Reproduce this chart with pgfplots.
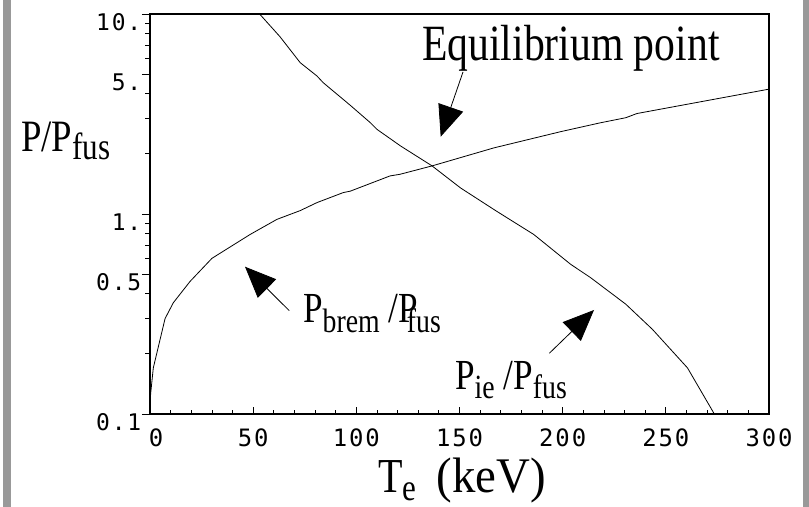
\documentclass[border=0pt]{standalone}
\usepackage{fontspec}
\setmainfont{Liberation Serif}
\newfontfamily\lblfont[FakeStretch=0.82]{Liberation Serif}
\newfontfamily\lblwfont[FakeStretch=0.94]{Liberation Serif}
\newfontfamily\tickfont[LetterSpace=8]{DejaVu Sans Mono}
\usepackage{pgfplots}
\pgfplotsset{compat=1.18}
\usetikzlibrary{arrows.meta}
\newcommand\lbl[2]{{\lblfont\fontsize{#1}{#1}\selectfont #2}}
\newcommand\sub[3]{\raisebox{-#1bp}{\lblfont\fontsize{#2}{#2}\selectfont #3}}
\begin{document}
\begin{tikzpicture}
\begin{axis}[
  scale only axis, width=619bp, height=400bp,
  xmin=0, xmax=300, ymode=log, ymin=0.1, ymax=10,
  axis line style={line width=2.2bp},
  tick align=outside, ytick pos=left,
  xtick=\empty,
  ytick={0.1,0.5,1,5,10}, yticklabels={0.1,0.5,1.,5.,10.},
  minor ytick={0.2,0.3,0.4,0.6,0.7,0.8,0.9,2,3,4,6,7,8,9},
  major tick length=8bp, minor tick length=5bp,
  every tick/.style={black, line width=0.8bp},
  yticklabel style={font=\tickfont\fontsize{23}{23}\selectfont, yshift=-8bp, inner sep=0.5bp},
]
\addplot[black, line width=0.8bp] coordinates {
(0,0.1) (0.3,0.126) (1.6,0.17) (7.3,0.30) (11.3,0.36) (19.4,0.46) (30,0.60)
(48.5,0.79) (61.5,0.94) (72.8,1.04) (80.9,1.14) (93.7,1.28) (97,1.30)
(116.3,1.55) (121.2,1.58) (136.7,1.74) (166.6,2.14) (199,2.58) (218.4,2.86)
(230.6,3.03) (236,3.18) (300,4.21)};
\addplot[black, line width=0.8bp] coordinates {
(52,10.3) (63,7.7) (72.8,5.71) (80.9,4.9) (84,4.53) (97,3.5) (106.8,2.86)
(110,2.65) (121.4,2.19) (136.7,1.74) (150.5,1.35) (167.5,1.04) (186,0.79)
(203.9,0.56) (213.6,0.48) (230.6,0.354) (243.5,0.265) (260.5,0.17)
(273.5,0.1) (274,0.098)};
\end{axis}
\begin{axis}[
  scale only axis, width=619bp, height=400bp,
  xmin=0, xmax=300, ymode=log, ymin=0.1, ymax=10,
  axis line style={draw=none},
  tick align=inside, xtick pos=bottom,
  ytick=\empty,
  xtick={0,50,...,300}, xticklabels={\hspace*{12bp}0,50,100,150,200,250,300},
  minor x tick num=4,
  major tick length=7bp, minor tick length=4bp,
  every tick/.style={black, line width=0.8bp},
  xticklabel style={font=\tickfont\fontsize{24}{24}\selectfont, inner sep=0pt, yshift=-15bp},
]
\end{axis}
\begin{scope}[x=1bp,y=-1bp,xshift=-150bp,yshift=414bp]
\path[use as bounding box] (0,0) rectangle (809,507);
\fill[black!40] (3,0) rectangle (11,507);
\fill[black!40] (803,0) rectangle (809,507);
\node[anchor=base west, inner sep=0] at (21,152) {\lbl{45}{P/P}\sub{8}{38}{fus}};
\node[anchor=base west, inner sep=0] at (422,61) {\lbl{51}{Equilibrium point}};
\node[anchor=base west, inner sep=0] at (303,323) {\lbl{43}{P}\sub{10}{34}{brem}\lbl{43}{ /P}\kern-11bp\sub{10}{34}{fus}};
\node[anchor=base west, inner sep=0] at (455,390) {\lbl{43}{P}\sub{9}{34}{ie}\lbl{43}{ /P}\sub{9}{34}{fus}};
\node[anchor=base west, inner sep=0] at (378,493) {\lbl{49}{T}\sub{8}{38}{e}\kern20bp{\lblwfont\fontsize{50}{50}\selectfont (keV)}};
\draw[line width=0.8bp, -{Triangle[length=31bp,width=26bp]}] (463,72) -- (440.7,136.7);
\draw[line width=0.8bp, -{Triangle[length=31bp,width=26bp]}] (289.3,310.7) -- (245,266.7);
\draw[line width=0.8bp, -{Triangle[length=31bp,width=26bp]}] (549.3,353.3) -- (594,310);
\end{scope}
\end{tikzpicture}
\end{document}
